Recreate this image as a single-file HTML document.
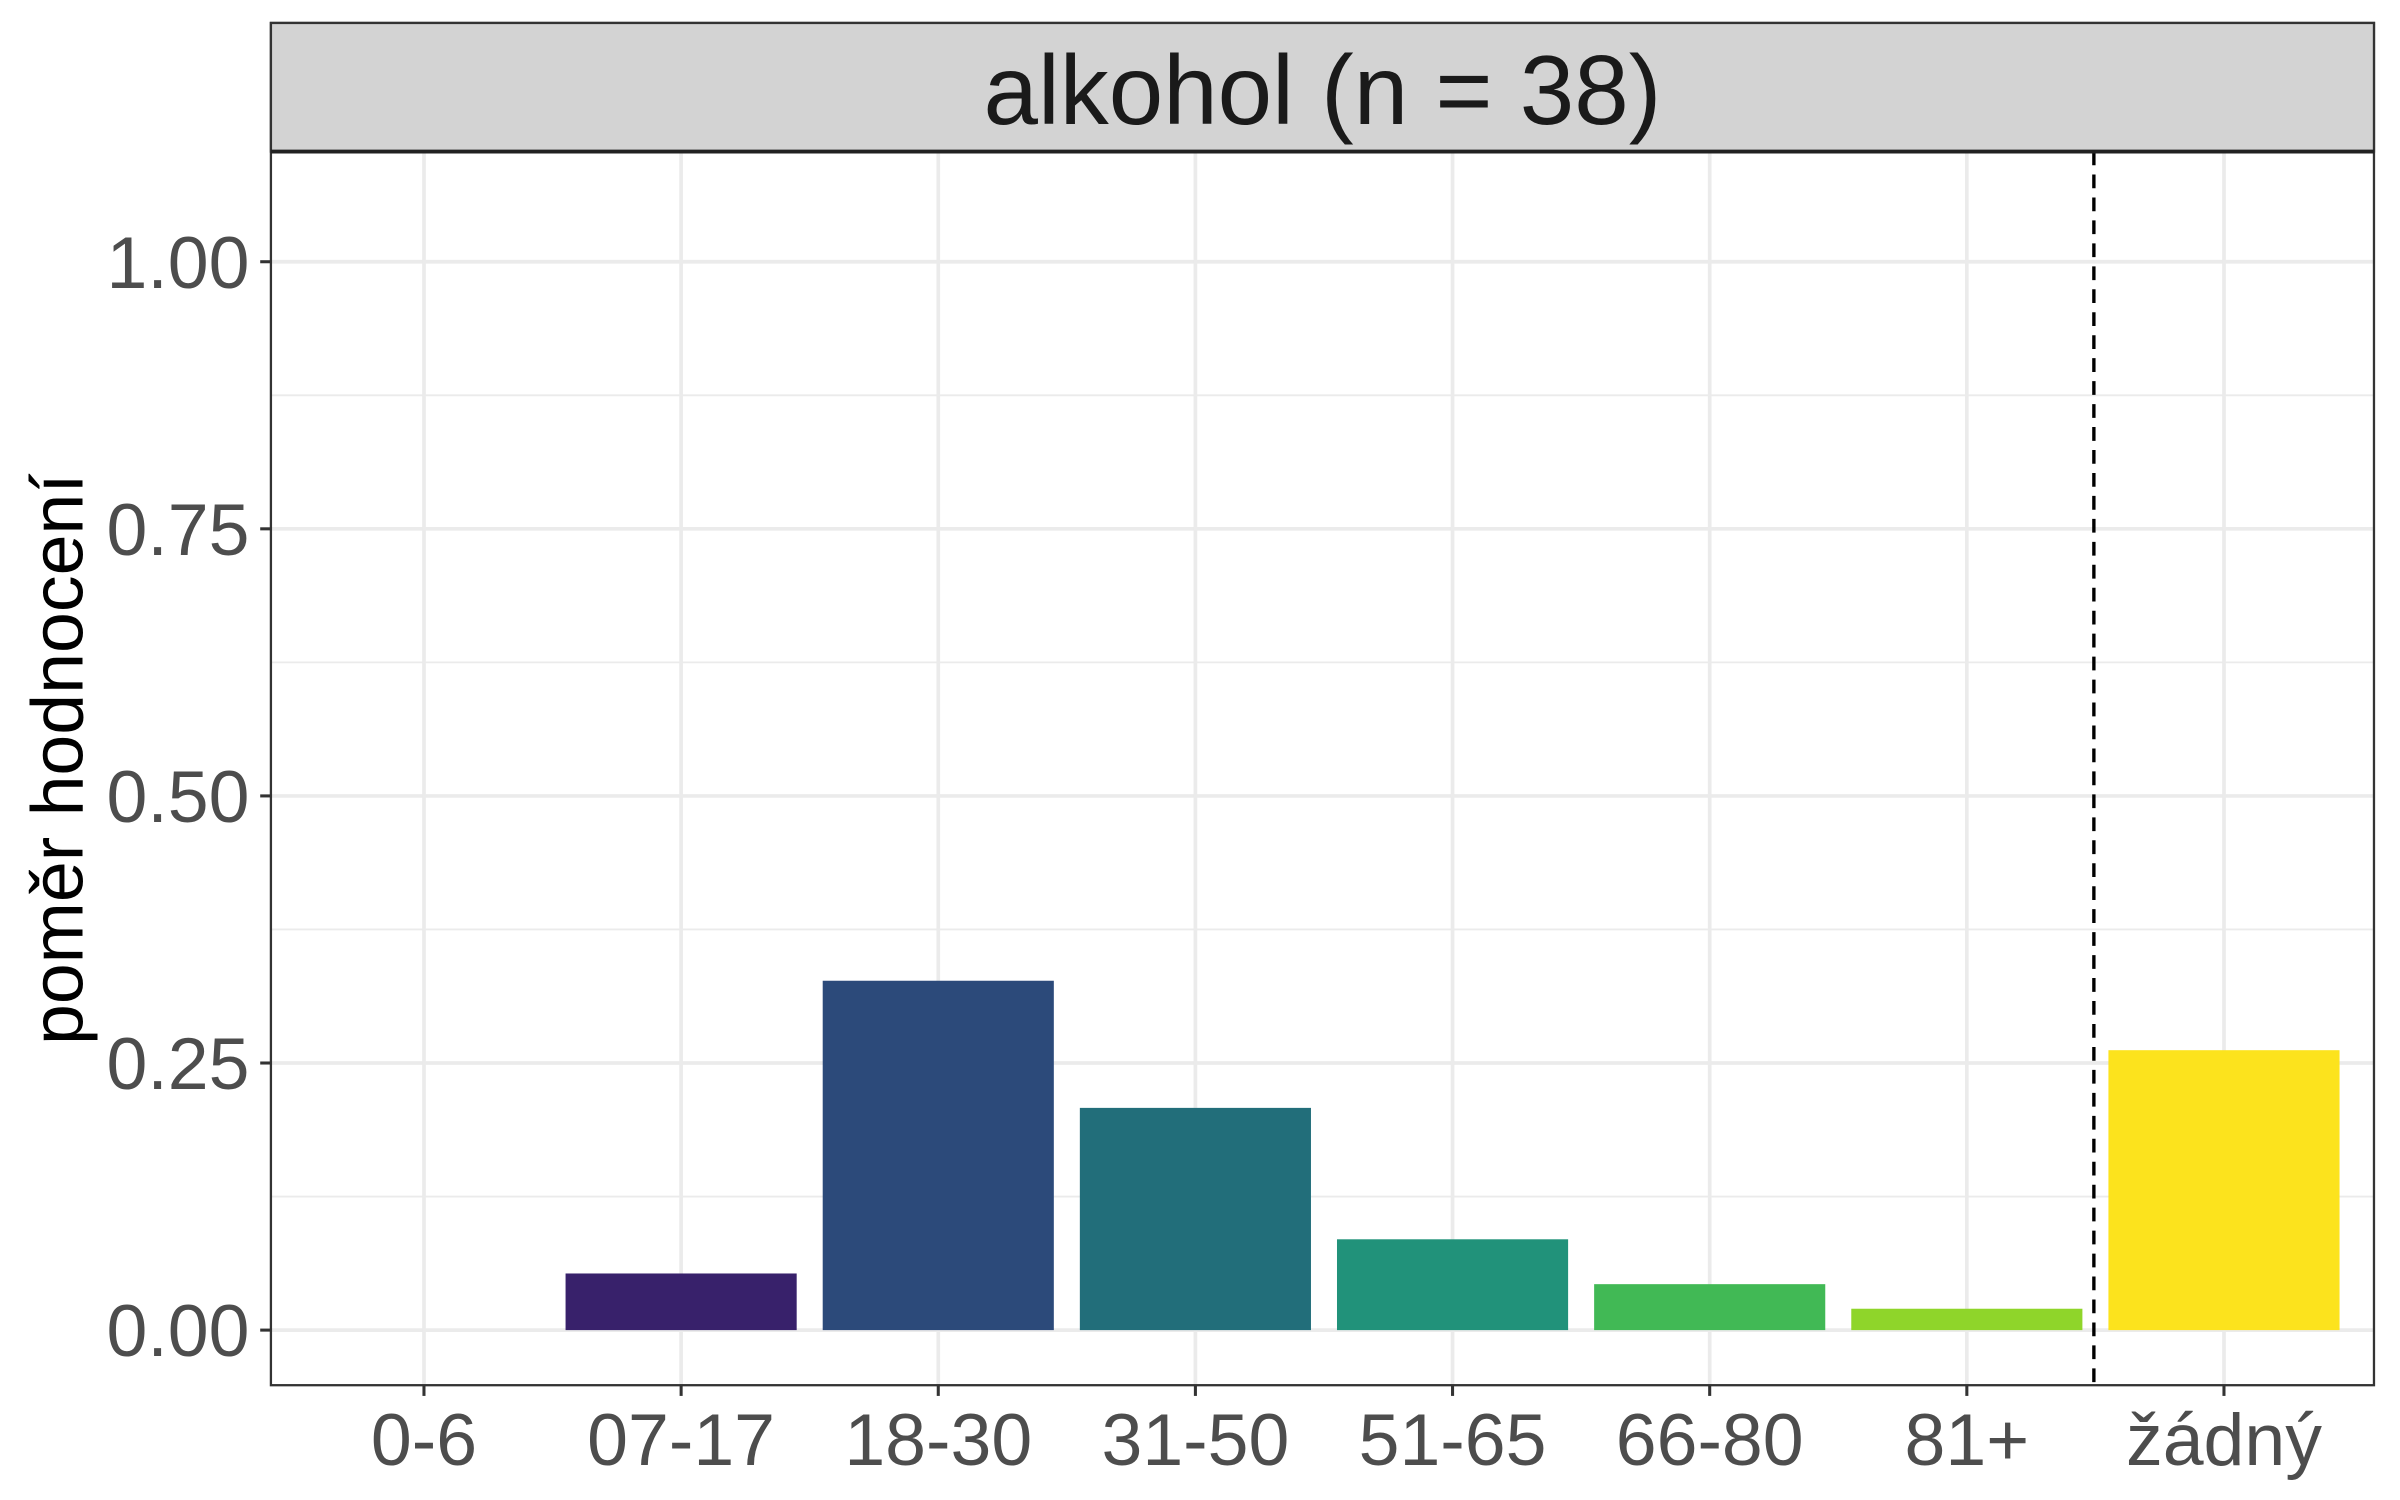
<!DOCTYPE html>
<html><head><meta charset="utf-8"><style>html,body{margin:0;padding:0;background:#fff}svg{display:block}</style></head>
<body>
<svg id="chart" width="2400" height="1500" viewBox="0 0 1568 980" xmlns="http://www.w3.org/2000/svg" font-family="Liberation Sans, Arial, sans-serif">
<rect x="0" y="0" width="1568" height="980" fill="#fff"/>
<g id="grid"></g>
<g id="bars"></g>
<line x1="1368" x2="1368" y1="99" y2="905" stroke="#000" stroke-width="2.2" stroke-dasharray="9,6"/>
<rect x="177" y="15" width="1374" height="890" fill="none" stroke="#333" stroke-width="1.5"/>
<rect x="177" y="15" width="1374" height="84" fill="#d3d3d3" stroke="#333" stroke-width="1.5"/>
<line x1="177" x2="1551" y1="99" y2="99" stroke="#222" stroke-width="2.5"/>
<text x="864" y="81" font-size="64" text-anchor="middle" fill="#1a1a1a">alkohol (n = 38)</text>
<text transform="translate(54,496) rotate(-90)" font-size="48" text-anchor="middle" fill="#000">poměr hodnocení</text>
<g id="axes"></g>
</svg>
<script>
const categories = ["0-6","07-17","18-30","31-50","51-65","66-80","81+","žádný"];
const values = [0, 0.053, 0.327, 0.208, 0.085, 0.043, 0.020, 0.262];
const colors = ["#440154","#38216b","#2c4a7a","#226e7a","#21927a","#41b955","#8fd52a","#fce31d"];
const yTicks = [0, 0.25, 0.5, 0.75, 1.0];
const yTickLabels = ["0.00","0.25","0.50","0.75","1.00"];
const NS="http://www.w3.org/2000/svg";
const xScale = i => 277 + i*168;
const yScale = v => 869 - v*698;
const bw = 151;
function mk(tag, attrs, parent){const e=document.createElementNS(NS,tag);for(const k in attrs)e.setAttribute(k,attrs[k]);parent.appendChild(e);return e;}
const grid=document.getElementById('grid'), bars=document.getElementById('bars'), axes=document.getElementById('axes');
for(let i=0;i<yTicks.length-1;i++){
  const v=(yTicks[i]+yTicks[i+1])/2;
  const l=mk('line',{x1:177,x2:1551,y1:yScale(v),y2:yScale(v),stroke:'#ebebeb','stroke-width':1.2},grid);
  
  
}
yTicks.forEach((v,i)=>{
  const l=mk('line',{x1:177,x2:1551,y1:yScale(v),y2:yScale(v),stroke:'#ebebeb','stroke-width':2.4},grid);
  
  
  const t=mk('line',{x1:170,x2:177,y1:yScale(v),y2:yScale(v),stroke:'#333','stroke-width':2},axes);
  
  
  const tx=mk('text',{x:163,y:yScale(v)+17,'font-size':48,'text-anchor':'end',fill:'#4d4d4d'},axes);
  tx.textContent=yTickLabels[i];
  
  
});
categories.forEach((c,i)=>{
  const l=mk('line',{x1:xScale(i),x2:xScale(i),y1:99,y2:905,stroke:'#ebebeb','stroke-width':2.4},grid);
  
  
  const b=mk('rect',{x:xScale(i)-bw/2,y:yScale(values[i]),width:bw,height:yScale(0)-yScale(values[i]),fill:colors[i]},bars);
  
  
  const t=mk('line',{x1:xScale(i),x2:xScale(i),y1:905,y2:912,stroke:'#333','stroke-width':2},axes);
  
  
  const tx=mk('text',{x:xScale(i),y:957,'font-size':48,'text-anchor':'middle',fill:'#4d4d4d'},axes);
  tx.textContent=c;
  
  
});
</script>
</body></html>
